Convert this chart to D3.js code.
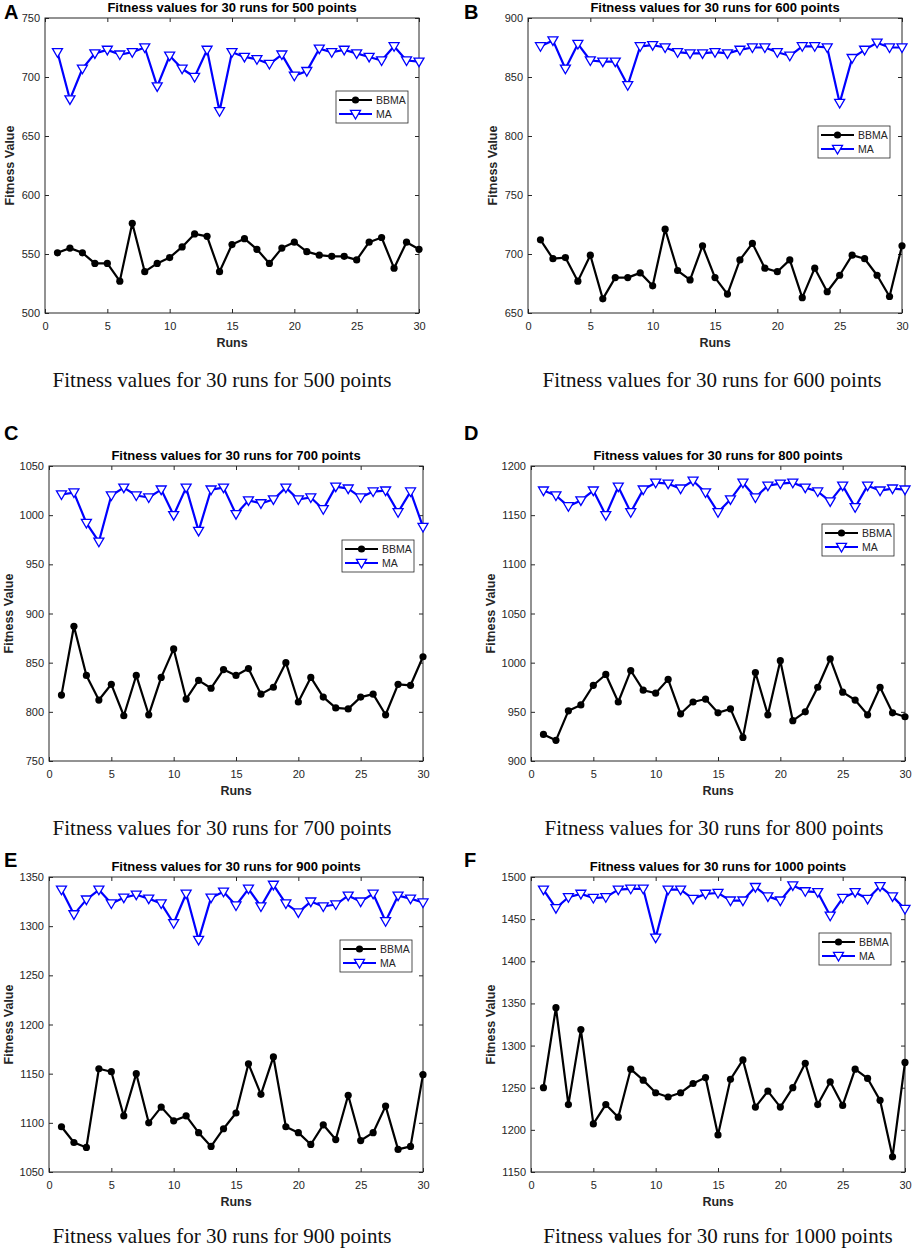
<!DOCTYPE html>
<html>
<head>
<meta charset="utf-8">
<script src="https://d3js.org/d3.v7.min.js"></script>
<style>
  body { margin: 0; background: #fff; }
  svg text { font-family: "Liberation Sans", Arial, sans-serif; }
  .caption { font-family: "Liberation Serif", "Times New Roman", serif !important; }
  .tick text { fill: #262626; font-size: 11px; }
  .tick line { stroke: #262626; }
</style>
</head>
<body>
<svg id="fig" width="913" height="1250"></svg>
<script>
// x categories and ticks
const runs = [1, 2, 3, 4, 5, 6, 7, 8, 9, 10, 11, 12, 13, 14, 15,
  16, 17, 18, 19, 20, 21, 22, 23, 24, 25, 26, 27, 28, 29, 30];
const xTicks = [0, 5, 10, 15, 20, 25, 30];
const pointCounts = [500, 600, 700, 800, 900, 1000];
const seriesNames = ['BBMA', 'MA'];

// fitness values
const bbma500 = [551, 555, 551, 542, 542, 527, 576, 535, 542, 547, 556, 567, 565, 535, 558, 563, 554, 542, 555, 560, 552, 549, 548, 548, 545, 560, 564, 538, 560, 554];
const ma500 = [721, 681, 707, 720, 723, 719, 721, 725, 692, 718, 707, 700, 723, 671, 721, 717, 715, 711, 719, 701, 705, 724, 721, 723, 720, 717, 714, 726, 714, 713];
const bbma600 = [712, 696, 697, 677, 699, 662, 680, 680, 684, 673, 721, 686, 678, 707, 680, 666, 695, 709, 688, 685, 695, 663, 688, 668, 682, 699, 696, 682, 664, 707];
const ma600 = [876, 881, 857, 878, 864, 863, 863, 843, 876, 877, 875, 871, 870, 870, 871, 870, 873, 875, 875, 871, 868, 876, 876, 875, 828, 866, 873, 879, 875, 875];
const bbma700 = [817, 887, 837, 812, 828, 796, 837, 797, 835, 864, 813, 832, 824, 843, 837, 844, 818, 825, 850, 810, 835, 815, 804, 803, 815, 818, 797, 828, 827, 856];
const ma700 = [1021, 1023, 992, 973, 1020, 1028, 1020, 1018, 1026, 1000, 1028, 984, 1026, 1028, 1001, 1015, 1012, 1016, 1028, 1016, 1018, 1006, 1029, 1027, 1018, 1024, 1025, 1003, 1024, 988];
const bbma800 = [927, 921, 951, 957, 977, 988, 960, 992, 972, 969, 983, 948, 960, 963, 949, 953, 924, 990, 947, 1002, 941, 950, 975, 1004, 970, 962, 947, 975, 949, 945];
const ma800 = [1175, 1170, 1159, 1165, 1175, 1150, 1179, 1153, 1176, 1183, 1182, 1177, 1185, 1173, 1153, 1166, 1183, 1168, 1180, 1182, 1183, 1178, 1174, 1164, 1180, 1158, 1180, 1175, 1177, 1176];
const bbma900 = [1096, 1080, 1075, 1155, 1152, 1107, 1150, 1100, 1116, 1102, 1107, 1090, 1076, 1094, 1110, 1160, 1129, 1167, 1096, 1090, 1078, 1098, 1083, 1128, 1082, 1090, 1117, 1073, 1076, 1149];
const ma900 = [1337, 1312, 1327, 1337, 1323, 1329, 1332, 1328, 1323, 1303, 1333, 1286, 1329, 1335, 1321, 1338, 1320, 1342, 1323, 1314, 1325, 1320, 1322, 1331, 1325, 1333, 1305, 1331, 1328, 1324];
const bbma1000 = [1250, 1345, 1230, 1319, 1207, 1230, 1215, 1272, 1259, 1244, 1239, 1244, 1255, 1262, 1194, 1260, 1283, 1227, 1246, 1227, 1250, 1279, 1230, 1257, 1229, 1272, 1261, 1235, 1168, 1280];
const ma1000 = [1485, 1463, 1476, 1480, 1475, 1476, 1485, 1486, 1486, 1428, 1485, 1485, 1474, 1480, 1481, 1472, 1472, 1488, 1477, 1472, 1490, 1483, 1482, 1454, 1475, 1482, 1474, 1489, 1477, 1462];

// y tick labels per panel
const yTicks500 = [500, 550, 600, 650, 700, 750];
const yTicks600 = [650, 700, 750, 800, 850, 900];
const yTicks700 = [750, 800, 850, 900, 950, 1000, 1050];
const yTicks800 = [900, 950, 1000, 1050, 1100, 1150, 1200];
const yTicks900 = [1050, 1100, 1150, 1200, 1250, 1300, 1350];
const yTicks1000 = [1150, 1200, 1250, 1300, 1350, 1400, 1450, 1500];

const letters = ['A', 'B', 'C', 'D', 'E', 'F'];
const bbmaSets = [bbma500, bbma600, bbma700, bbma800, bbma900, bbma1000];
const maSets = [ma500, ma600, ma700, ma800, ma900, ma1000];
const yTickSets = [yTicks500, yTicks600, yTicks700, yTicks800, yTicks900, yTicks1000];

// layout of each panel (pixels)
const layout = [
  { left: 45, top: 18, letterX: 4, letterY: 19, capX: 222, capY: 387, legX: 291, legY: 73, ylab: -35 },
  { left: 528, top: 18, letterX: 464, letterY: 19, capX: 712, capY: 387, legX: 290, legY: 108, ylab: -35 },
  { left: 49, top: 466, letterX: 4, letterY: 440, capX: 222, capY: 835, legX: 293, legY: 74, ylab: -40 },
  { left: 531, top: 466, letterX: 464, letterY: 440, capX: 714, capY: 835, legX: 291, legY: 58, ylab: -40 },
  { left: 49, top: 877, letterX: 4, letterY: 867, capX: 222, capY: 1243, legX: 291, legY: 63, ylab: -40 },
  { left: 531, top: 877, letterX: 464, letterY: 867, capX: 718, capY: 1243, legX: 288, legY: 56, ylab: -40 }
];
const W = 374, H = 295;

const svg = d3.select('#fig');
const triangle = 'M-5,-3.6L5,-3.6L0,5Z';
const fmt = d3.format('d');

function drawPanel(i) {
  const lay = layout[i];
  const yTicks = yTickSets[i];
  const title = `Fitness values for 30 runs for ${pointCounts[i]} points`;

  const x = d3.scaleLinear().domain([0, 30]).range([0, W]);
  const y = d3.scaleLinear().domain(d3.extent(yTicks)).range([H, 0]);

  const g = svg.append('g').attr('transform', `translate(${lay.left},${lay.top})`);

  // axes, MATLAB style: ticks pointing inward on all four sides
  g.append('g').attr('transform', `translate(0,${H})`)
    .call(d3.axisBottom(x).tickValues(xTicks).tickFormat(fmt).tickSizeInner(-4).tickSizeOuter(0).tickPadding(9))
    .call(a => a.select('.domain').remove());
  g.append('g')
    .call(d3.axisTop(x).tickValues(xTicks).tickSizeInner(-4).tickSizeOuter(0).tickFormat(''))
    .call(a => a.select('.domain').remove());
  g.append('g')
    .call(d3.axisLeft(y).tickValues(yTicks).tickFormat(fmt).tickSizeInner(-4).tickSizeOuter(0).tickPadding(5))
    .call(a => a.select('.domain').remove());
  g.append('g').attr('transform', `translate(${W},0)`)
    .call(d3.axisRight(y).tickValues(yTicks).tickSizeInner(-4).tickSizeOuter(0).tickFormat(''))
    .call(a => a.select('.domain').remove());
  g.append('rect').attr('width', W).attr('height', H)
    .attr('fill', 'none').attr('stroke', '#262626').attr('stroke-width', 1);

  const line = d3.line().x((d, k) => x(runs[k])).y(d => y(d));

  // BBMA series
  g.append('path').datum(bbmaSets[i]).attr('d', line)
    .attr('fill', 'none').attr('stroke', '#000').attr('stroke-width', 2.2).attr('stroke-linejoin', 'round');
  g.selectAll('.dot').data(bbmaSets[i]).join('circle').attr('class', 'dot')
    .attr('cx', (d, k) => x(runs[k])).attr('cy', d => y(d)).attr('r', 3.6).attr('fill', '#000');

  // MA series
  g.append('path').datum(maSets[i]).attr('d', line)
    .attr('fill', 'none').attr('stroke', '#0000ff').attr('stroke-width', 2.2).attr('stroke-linejoin', 'round');
  g.selectAll('.tri').data(maSets[i]).join('path').attr('class', 'tri')
    .attr('d', triangle)
    .attr('transform', (d, k) => `translate(${x(runs[k])},${y(d)})`)
    .attr('fill', '#fff').attr('stroke', '#0000ff').attr('stroke-width', 1.3);

  // title and axis labels
  g.append('text').attr('x', W / 2).attr('y', -6).attr('text-anchor', 'middle')
    .style('font-size', '13px').style('font-weight', 'bold').text(title);
  g.append('text').attr('x', W / 2).attr('y', H + 34).attr('text-anchor', 'middle')
    .style('font-size', '12.5px').style('font-weight', 'bold').attr('fill', '#262626').text('Runs');
  g.append('text').attr('transform', `translate(${lay.ylab},${H / 2}) rotate(-90)`).attr('text-anchor', 'middle')
    .attr('dy', '0.35em')
    .style('font-size', '12.5px').style('font-weight', 'bold').attr('fill', '#262626').text('Fitness Value');

  // legend
  const leg = g.append('g').attr('transform', `translate(${lay.legX},${lay.legY})`);
  leg.append('rect').attr('width', 72).attr('height', 32)
    .attr('fill', '#fff').attr('stroke', '#262626').attr('stroke-width', 0.8);
  seriesNames.forEach((name, k) => {
    const ly = 9 + k * 14;
    const col = k === 0 ? '#000' : '#0000ff';
    leg.append('line').attr('x1', 3).attr('x2', 36).attr('y1', ly).attr('y2', ly)
      .attr('stroke', col).attr('stroke-width', 2.2);
    if (k === 0) {
      leg.append('circle').attr('cx', 19.5).attr('cy', ly).attr('r', 3.6).attr('fill', '#000');
    } else {
      leg.append('path').attr('d', triangle).attr('transform', `translate(19.5,${ly})`)
        .attr('fill', '#fff').attr('stroke', '#0000ff').attr('stroke-width', 1.3);
    }
    leg.append('text').attr('x', 40).attr('y', ly).attr('dy', '0.35em')
      .style('font-size', '10.5px').attr('fill', '#262626').text(name);
  });

  // panel letter and caption
  svg.append('text').attr('x', lay.letterX).attr('y', lay.letterY)
    .style('font-size', '20px').style('font-weight', 'bold').text(letters[i]);
  svg.append('text').attr('class', 'caption').attr('x', lay.capX).attr('y', lay.capY)
    .attr('text-anchor', 'middle').style('font-size', '21px').attr('fill', '#111').text(title);
}

pointCounts.forEach((_, i) => drawPanel(i));
</script>
</body>
</html>
